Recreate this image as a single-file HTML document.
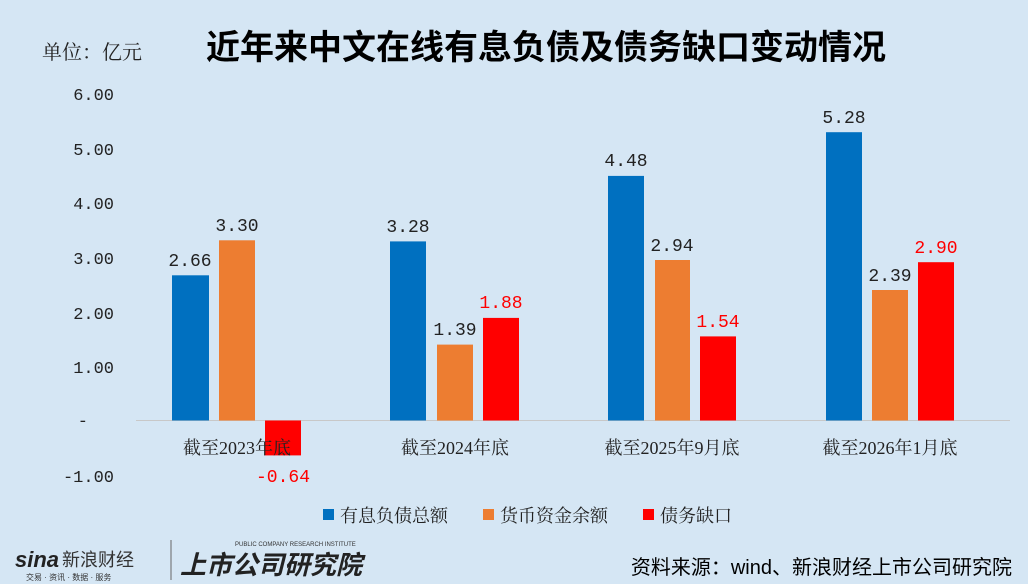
<!DOCTYPE html>
<html><head><meta charset="utf-8"><style>
body{margin:0;width:1028px;height:584px;background:#d5e6f4;overflow:hidden}
svg{display:block}
</style></head><body>
<svg width="1028" height="584" xmlns="http://www.w3.org/2000/svg">
<rect width="1028" height="584" fill="#d5e6f4"/>
<text x="546" y="59" text-anchor="middle" font-family="Liberation Sans,'Noto Sans CJK SC',sans-serif" font-size="34" font-weight="bold" fill="#000">近年来中文在线有息负债及债务缺口变动情况</text>
<text x="42" y="59" font-family="'Noto Serif CJK SC','Noto Sans CJK SC',serif" font-size="20" fill="#222">单位：亿元</text>
<g font-family="Liberation Mono,'Noto Sans CJK SC',monospace" font-size="17" fill="#222" text-anchor="end">
<text x="114" y="100">6.00</text><text x="114" y="155">5.00</text><text x="114" y="209">4.00</text>
<text x="114" y="264">3.00</text><text x="114" y="319">2.00</text><text x="114" y="373">1.00</text>
<text x="88" y="426">-</text><text x="114" y="482">-1.00</text>
</g>
<line x1="136" y1="420.5" x2="1010" y2="420.5" stroke="#c8c8c8" stroke-width="1"/>
<g>
<rect x="172" y="275.3" width="37" height="145.2" fill="#0070c0"/>
<rect x="219" y="240.3" width="36" height="180.2" fill="#ed7d31"/>
<rect x="265" y="420.5" width="36" height="34.9" fill="#ff0000"/>
<rect x="390" y="241.4" width="36" height="179.1" fill="#0070c0"/>
<rect x="437" y="344.6" width="36" height="75.9" fill="#ed7d31"/>
<rect x="483" y="317.9" width="36" height="102.6" fill="#ff0000"/>
<rect x="608" y="175.9" width="36" height="244.6" fill="#0070c0"/>
<rect x="655" y="260" width="35" height="160.5" fill="#ed7d31"/>
<rect x="700" y="336.4" width="36" height="84.1" fill="#ff0000"/>
<rect x="826" y="132.2" width="36" height="288.3" fill="#0070c0"/>
<rect x="872" y="290" width="36" height="130.5" fill="#ed7d31"/>
<rect x="918" y="262.2" width="36" height="158.3" fill="#ff0000"/>
</g>
<g font-family="Liberation Mono,monospace" font-size="18" fill="#222" text-anchor="middle">
<text x="190" y="266">2.66</text><text x="237" y="231">3.30</text>
<text x="408" y="232">3.28</text><text x="455" y="335">1.39</text>
<text x="626" y="166">4.48</text><text x="672" y="251">2.94</text>
<text x="844" y="123">5.28</text><text x="890" y="281">2.39</text>
<g fill="#ff0000"><text x="283" y="482">-0.64</text><text x="501" y="308">1.88</text><text x="718" y="327">1.54</text><text x="936" y="253">2.90</text></g>
</g>
<g font-family="Liberation Serif,'Noto Serif CJK SC',serif" font-size="18" fill="#222" text-anchor="middle">
<text x="237" y="454">截至2023年底</text><text x="455" y="454">截至2024年底</text>
<text x="672" y="454">截至2025年9月底</text><text x="890" y="454">截至2026年1月底</text>
</g>
<g font-family="'Noto Serif CJK SC',serif" font-size="18" fill="#222">
<rect x="323" y="509" width="11" height="11" fill="#0070c0"/><text x="340" y="522">有息负债总额</text>
<rect x="483" y="509" width="11" height="11" fill="#ed7d31"/><text x="500" y="522">货币资金余额</text>
<rect x="643" y="509" width="11" height="11" fill="#ff0000"/><text x="660" y="522">债务缺口</text>
</g>
<g font-family="Liberation Sans,'Noto Sans CJK SC',sans-serif">
<text x="15" y="567" font-size="22" font-weight="bold" font-style="italic" fill="#222">sina</text>
<text x="62" y="566" font-size="18" fill="#333">新浪财经</text>
<text x="26" y="580" font-size="8" fill="#333">交易 · 资讯 · 数据 · 服务</text>
<line x1="171" y1="540" x2="171" y2="580" stroke="#666"/>
<text x="180" y="574" font-size="26" font-weight="bold" font-style="italic" fill="#222">上市公司研究院</text>
<text x="235" y="546" font-size="6" fill="#333">PUBLIC COMPANY RESEARCH INSTITUTE</text>
<text x="1012" y="574" text-anchor="end" font-size="20" fill="#000">资料来源：wind、新浪财经上市公司研究院</text>
</g>
</svg>
</body></html>
